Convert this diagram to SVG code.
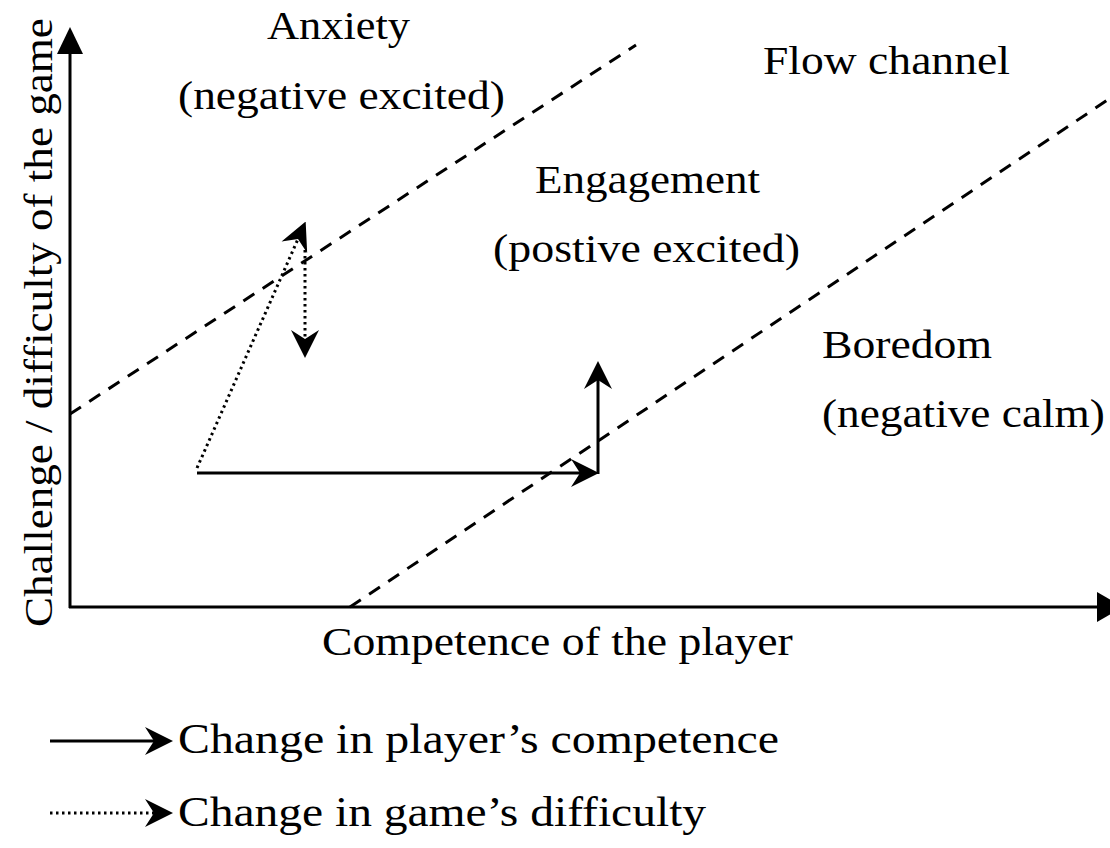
<svg xmlns="http://www.w3.org/2000/svg" width="1110" height="848" viewBox="0 0 1110 848">
<style>
.axis{stroke:#000;stroke-width:3;fill:none}
.dash{stroke:#000;stroke-width:3;fill:none;stroke-dasharray:13 10}
.solid{stroke:#000;stroke-width:3;fill:none}
.dot{stroke:#000;stroke-width:3;fill:none;stroke-dasharray:2.5 3.5}
</style>
<defs>
<marker id="head" markerUnits="userSpaceOnUse" viewBox="0 -15 28 30" markerWidth="28" markerHeight="30" refX="9" refY="0" orient="auto">
<path d="M28,0 L0,-14 L9,0 L0,14 Z" fill="#000"/>
</marker>
</defs>
<rect width="1110" height="848" fill="#fff"/>
<g id="axes">
<path class="axis" d="M70,608 V50"/>
<path d="M70,27 L57,54 L83,54 Z" fill="#000"/>
<path class="axis" d="M69,607 H1100"/>
<path d="M1123,607 L1097,592 L1097,622 Z" fill="#000"/>
<text id="y-label" font-family="Liberation Serif" font-size="41" fill="#000" transform="translate(52,627) rotate(-90) scale(1.1,1)">Challenge / difficulty of the game</text>
<text id="x-label" font-family="Liberation Serif" font-size="41" fill="#000" transform="translate(322,655) scale(1.115,1)">Competence of the player</text>
</g>
<g id="boundaries">
<path class="dash" d="M70,414 L636,45"/>
<path class="dash" d="M350,607 L1115,95"/>
</g>
<g id="anxiety">
<text font-family="Liberation Serif" font-size="41" fill="#000" transform="translate(267,39) scale(1.083,1)">Anxiety</text>
<text font-family="Liberation Serif" font-size="41" fill="#000" transform="translate(178,109) scale(1.109,1)">(negative excited)</text>
</g>
<g id="flow-channel">
<text font-family="Liberation Serif" font-size="41" fill="#000" transform="translate(763,74) scale(1.112,1)">Flow channel</text>
</g>
<g id="engagement">
<text font-family="Liberation Serif" font-size="41" fill="#000" transform="translate(535,193) scale(1.098,1)">Engagement</text>
<text font-family="Liberation Serif" font-size="41" fill="#000" transform="translate(493,262) scale(1.119,1)">(postive excited)</text>
</g>
<g id="boredom">
<text font-family="Liberation Serif" font-size="41" fill="#000" transform="translate(822,358) scale(1.114,1)">Boredom</text>
<text font-family="Liberation Serif" font-size="41" fill="#000" transform="translate(822,427) scale(1.105,1)">(negative calm)</text>
</g>
<g id="connectors">
<path class="solid" d="M197,473 H580" marker-end="url(#head)"/>
<path class="solid" d="M598,474 V380" marker-end="url(#head)"/>
<path class="dot" d="M197,468 L298,239" marker-end="url(#head)"/>
<path class="dot" d="M305,250 V339" marker-end="url(#head)"/>
</g>
<g id="legend">
<path class="solid" d="M50,741 H154" marker-end="url(#head)"/>
<text font-family="Liberation Serif" font-size="43" fill="#000" transform="translate(178,753) scale(1.113,1)">Change in player’s competence</text>
<path class="dot" d="M50,813 H154" marker-end="url(#head)"/>
<text font-family="Liberation Serif" font-size="43" fill="#000" transform="translate(178,826) scale(1.105,1)">Change in game’s difficulty</text>
</g>
</svg>
